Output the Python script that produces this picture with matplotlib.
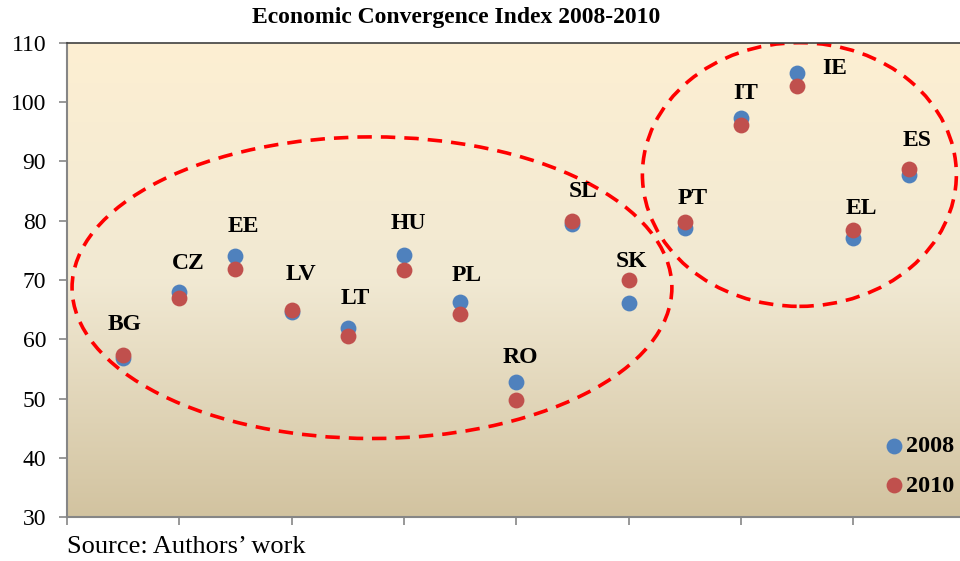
import numpy as np
import matplotlib; matplotlib.use("Agg")
import matplotlib.pyplot as plt
from matplotlib.patches import Ellipse
from matplotlib.colors import LinearSegmentedColormap

plt.rcParams['font.family'] = ['Liberation Serif', 'DejaVu Serif']

# ── data ──────────────────────────────────────────────────────────────────────
countries = ["BG", "CZ", "EE", "LV", "LT", "HU", "PL", "RO",
             "SL", "SK", "PT", "IT", "IE", "EL", "ES"]
x_pos     = np.arange(1, len(countries) + 1)
val_2008  = [56.8, 68.0, 74.0, 64.6, 61.9, 74.3, 66.3, 52.8,
             79.4, 66.2, 78.7, 97.4, 105.0, 77.1, 87.7]
val_2010  = [57.3, 67.0, 71.8, 64.9, 60.5, 71.7, 64.2, 49.7,
             80.0, 70.0, 79.8, 96.2, 102.8, 78.4, 88.7]

# label offsets from the 2008 point, in pixels (dx, dy up)
label_dx = [1, 9, 8, 9, 7, 4, 7, 4, 11, 3, 8, 5, 38, 8, 8]
label_dy = [34, 28, 30, 37, 29, 31, 26, 24, 33, 41, 30, 24, 4, 29, 35]

BLUE = "#4F81BD"
RED  = "#C0504D"
PX = 72 / 100  # pixel -> points

fig = plt.figure(figsize=(9.6, 5.61), dpi=100)
ax = fig.add_axes([0.0698, 0.0784, 0.9302, 0.845])

# background gradient
cmap = LinearSegmentedColormap.from_list("bg", ["#D2C3A0", "#F1E9D3", "#FDEFD2"])
grad = np.linspace(0, 1, 256).reshape(-1, 1)
ax.imshow(grad, cmap=cmap, aspect="auto", origin="lower",
          extent=[0, 15.9, 30, 110], zorder=0)

ax.scatter(x_pos, val_2008, s=130, color=BLUE, zorder=3, label="2008", linewidths=0)
ax.scatter(x_pos, val_2010, s=130, color=RED, zorder=4, label="2010", linewidths=0)

# country labels
for i, c in enumerate(countries):
    ax.annotate(c, (x_pos[i], val_2008[i]),
                xytext=(label_dx[i] * PX, label_dy[i] * PX), textcoords="offset points",
                ha="center", va="center", fontsize=17, fontweight="bold", zorder=5)

# group ellipses
for (cx, cy, w, h) in [(5.43, 68.7, 10.68, 50.9), (13.04, 87.8, 5.59, 44.5)]:
    ax.add_patch(Ellipse((cx, cy), w, h, fill=False, edgecolor="#FF0000",
                         lw=2.6, ls=(0, (4, 2.5)), zorder=2))

ax.set_xlim(0, 15.9)
ax.set_ylim(30, 110)
ax.set_xticks(np.arange(0, 16, 2))
ax.set_xticklabels([])
ax.set_yticks(np.arange(30, 111, 10))
ax.tick_params(axis="both", direction="out", length=6, color="#868686", width=1.2)
ax.tick_params(axis="y", labelsize=17, pad=9)

for s in ["left", "bottom"]:
    ax.spines[s].set_color("#868686")
    ax.spines[s].set_linewidth(1.5)
ax.spines["right"].set_visible(False)
ax.spines["top"].set_color("#404040")
ax.spines["top"].set_linewidth(1.2)

leg = ax.legend(loc="lower right", bbox_to_anchor=(1.01, 0.012), frameon=False,
                handlelength=0.6, handletextpad=0.2, labelspacing=0.72, borderaxespad=0.2,
                prop={"weight": "bold", "size": 17.5})

fig.text(0.475, 0.968, "Economic Convergence Index 2008-2010", ha="center", va="center",
         fontsize=17, fontweight="bold")
fig.text(0.0698, 0.025, "Source: Authors\u2019 work", ha="left", va="center", fontsize=19)

fig.savefig("out.png", dpi=100)
